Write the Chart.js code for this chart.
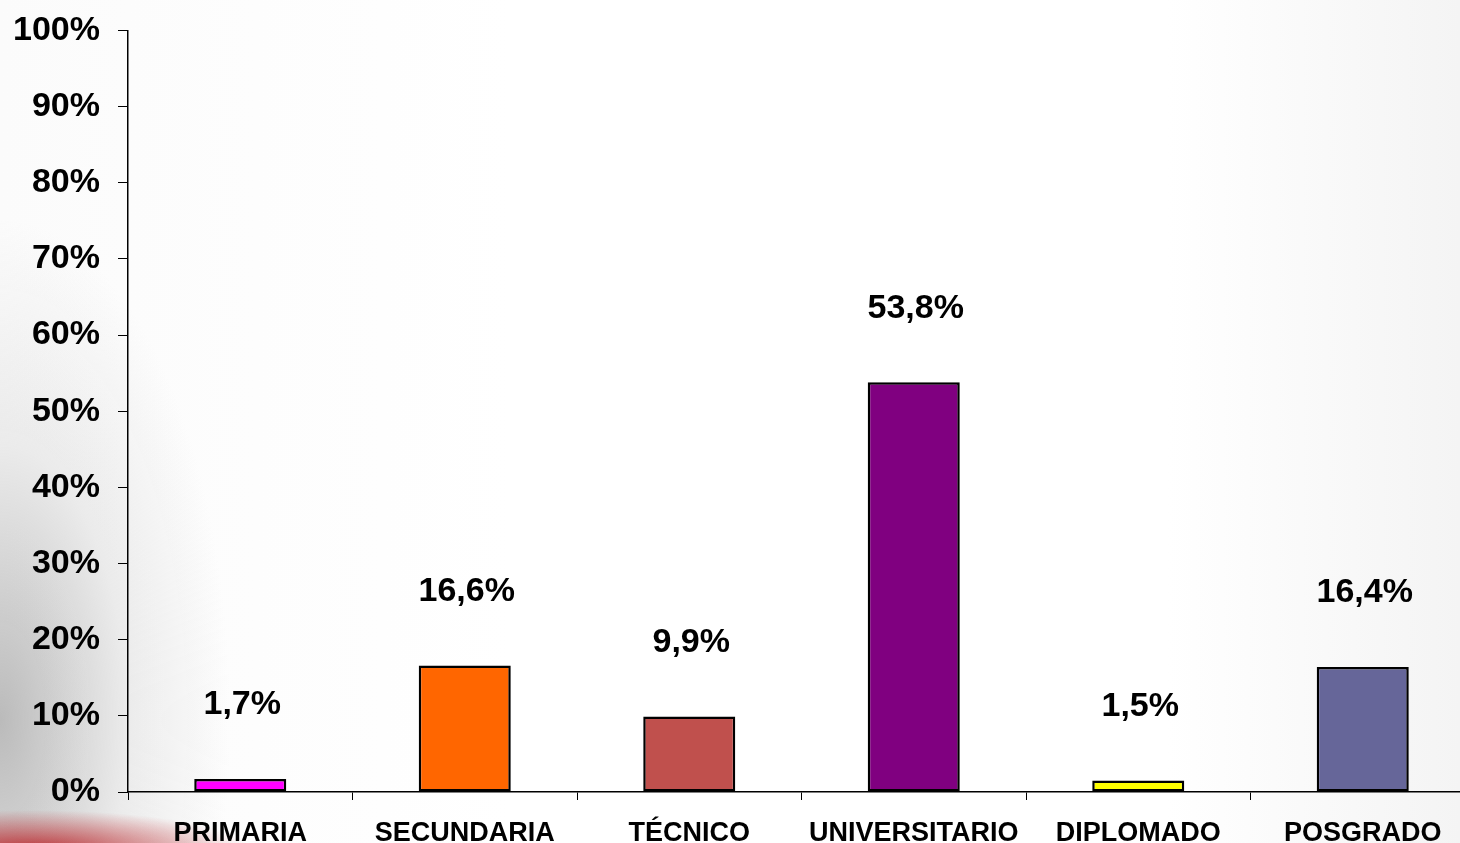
<!DOCTYPE html>
<html>
<head>
<meta charset="utf-8">
<script src="https://cdn.jsdelivr.net/npm/chart.js@4"></script>
<style>
  html, body { margin: 0; padding: 0; overflow: hidden; width: 1460px; height: 843px; }
  body {
    background:
      radial-gradient(ellipse 220px 40px at 30px 850px, rgba(185,35,40,0.9), rgba(185,35,40,0) 100%),
      radial-gradient(ellipse 230px 500px at 0px 720px, rgba(165,165,165,0.75), rgba(210,210,210,0.4) 55%, rgba(255,255,255,0) 100%),
      linear-gradient(to right, #fbfbfb, #ffffff 35%, #ffffff 80%, #f4f4f4);
  }
  #wrap { position: absolute; left: 0; top: -8px; width: 1475px; height: 858px; }
</style>
</head>
<body>
<div id="wrap"><canvas id="chart"></canvas></div>
<script>
// niveles de estudio
const categories = ["PRIMARIA", "SECUNDARIA", "TÉCNICO", "UNIVERSITARIO", "DIPLOMADO", "POSGRADO"];
const values = [1.7, 16.6, 9.9, 53.8, 1.5, 16.4];
const barColors = ["#FF00FF", "#FF6600", "#C0504D", "#800080", "#FFFF00", "#666699"];
const yTicks = [0, 10, 20, 30, 40, 50, 60, 70, 80, 90, 100];

const FONT = "'Liberation Sans', Arial, sans-serif";

// etiquetas de valor encima de cada barra
const valueLabels = {
  id: "valueLabels",
  afterDatasetsDraw(chart) {
    const ctx = chart.ctx;
    const meta = chart.getDatasetMeta(0);
    ctx.save();
    ctx.font = "bold 34px " + FONT;
    ctx.fillStyle = "#000";
    ctx.textAlign = "center";
    ctx.textBaseline = "middle";
    meta.data.forEach((bar, i) => {
      const txt = values[i].toFixed(1).replace(".", ",") + "%";
      ctx.fillText(txt, bar.x + 2, bar.y - 74);
    });
    ctx.restore();
  }
};

new Chart(document.getElementById("chart"), {
  type: "bar",
  data: {
    labels: categories,
    datasets: [{
      data: values,
      backgroundColor: barColors,
      borderColor: "#000",
      borderWidth: 2.5,
      borderSkipped: false,
      barPercentage: 0.41,
      categoryPercentage: 1
    }]
  },
  options: {
    responsive: true,
    maintainAspectRatio: false,
    animation: false,
    layout: { padding: { left: 14, top: 5, right: 0, bottom: 0 } },
    plugins: {
      legend: { display: false },
      tooltip: { enabled: false }
    },
    scales: {
      x: {
        afterFit(axis) { axis.height = 58; },
        grid: { drawOnChartArea: false, drawTicks: true, tickLength: 8, color: "#000", offset: true },
        border: { color: "#000", width: 1.5 },
        ticks: {
          color: "#000",
          padding: 17,
          maxRotation: 0,
          font: { family: FONT, size: 27, weight: "bold" }
        }
      },
      y: {
        min: 0,
        max: 100,
        afterBuildTicks(axis) { axis.ticks = yTicks.map(v => ({ value: v })); },
        afterFit(axis) { axis.width = 114; },
        grid: { drawOnChartArea: false, drawTicks: true, tickLength: 10, color: "#000" },
        border: { color: "#000", width: 1.5 },
        ticks: {
          color: "#000",
          padding: 18,
          font: { family: FONT, size: 34, weight: "bold" },
          callback: v => v + "%"
        }
      }
    }
  },
  plugins: [valueLabels]
});
</script>
</body>
</html>
